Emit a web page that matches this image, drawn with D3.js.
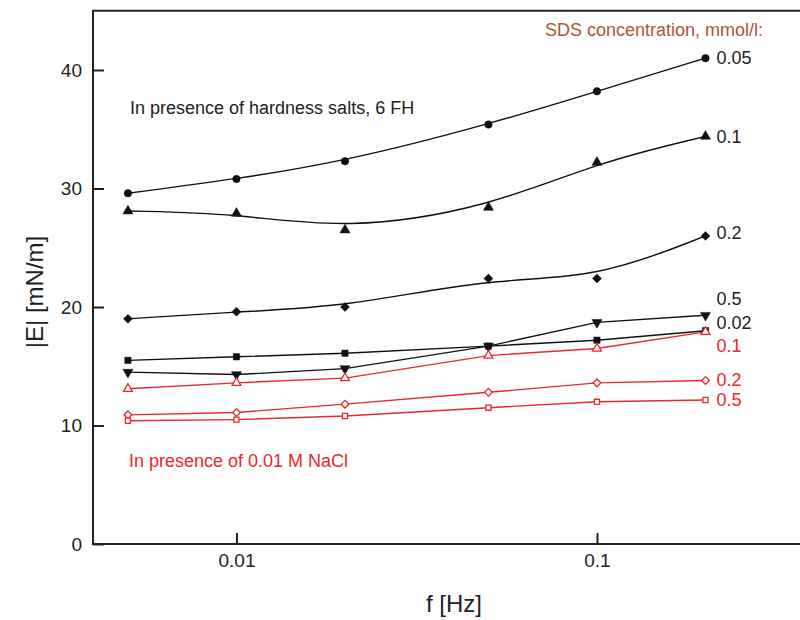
<!DOCTYPE html>
<html>
<head>
<meta charset="utf-8">
<script src="https://cdn.jsdelivr.net/npm/d3@7"></script>
<style>
  body { margin: 0; background: #fff; }
  svg { display: block; font-family: "Liberation Sans", Arial, sans-serif; }
</style>
</head>
<body>
<svg id="chart" width="800" height="620"></svg>
<script>
// frequencies (Hz)
var freqs = [0.005, 0.01, 0.02, 0.05, 0.1, 0.2];

// hardness salts, 6 FH (black)
var sds005 = [29.6, 30.8, 32.3, 35.4, 38.2, 41.0];
var sds01 = [28.1, 27.9, 26.5, 28.4, 32.2, 34.4];
var sds02 = [19.0, 19.6, 20.0, 22.4, 22.4, 26.0];
var sds05 = [14.5, 14.3, 14.8, 16.7, 18.7, 19.3];
var sds002 = [15.5, 15.8, 16.1, 16.7, 17.2, 18.0];

// 0.01 M NaCl (red)
var nacl01 = [13.1, 13.6, 14.0, 15.9, 16.5, 17.9];
var nacl02 = [10.9, 11.1, 11.8, 12.8, 13.6, 13.8];
var nacl05 = [10.4, 10.5, 10.8, 11.5, 12.0, 12.15];

var seriesNames = ["0.05", "0.1", "0.2", "0.5", "0.02", "0.1", "0.2", "0.5"];
var labelVals = [41.0, 34.35, 26.3, 20.7, 18.7, 16.7, 13.85, 12.15];

var xMajor = [0.01, 0.1];
var xMinor = [0.005, 0.006, 0.007, 0.008, 0.009, 0.02, 0.03, 0.04, 0.05, 0.06, 0.07, 0.08, 0.09, 0.2, 0.3];
var yMajor = [0, 10, 20, 30, 40];
var yMinor = [5, 15, 25, 35];

var black = "#111", red = "#e8282c";

var series = [
  { name: seriesNames[0], vals: sds005, sym: "circle", fill: true, color: black, curve: d3.curveBasis, lab: labelVals[0], labColor: "#222" },
  { name: seriesNames[1], vals: sds01, sym: "triangle", fill: true, color: black, curve: d3.curveBasis, lab: labelVals[1], labColor: "#222" },
  { name: seriesNames[2], vals: sds02, sym: "diamond", fill: true, color: black, curve: d3.curveBasis, lab: labelVals[2], labColor: "#222" },
  { name: seriesNames[3], vals: sds05, sym: "triangledown", fill: true, color: black, curve: d3.curveLinear, lab: labelVals[3], labColor: "#222" },
  { name: seriesNames[4], vals: sds002, sym: "square", fill: true, color: black, curve: d3.curveLinear, lab: labelVals[4], labColor: "#222" },
  { name: seriesNames[5], vals: nacl01, sym: "triangle", fill: false, color: red, curve: d3.curveLinear, lab: labelVals[5], labColor: red },
  { name: seriesNames[6], vals: nacl02, sym: "diamond", fill: false, color: red, curve: d3.curveLinear, lab: labelVals[6], labColor: red },
  { name: seriesNames[7], vals: nacl05, sym: "square", fill: false, color: red, curve: d3.curveLinear, lab: labelVals[7], labColor: red }
];

var svg = d3.select("#chart");

var x = d3.scaleLog().domain([0.004, 0.4]).range([93, 814]);
var y = d3.scaleLinear().domain([0, 45]).range([544, 10.75]);

// frame (right side falls outside the picture)
svg.append("rect")
  .attr("x", x(0.004)).attr("y", y(45))
  .attr("width", x(0.4) - x(0.004)).attr("height", y(0) - y(45))
  .attr("fill", "none").attr("stroke", "#222").attr("stroke-width", 2);

// x axis
var gx = svg.append("g").attr("transform", "translate(0," + y(0) + ")");
gx.call(d3.axisBottom(x).tickValues(xMinor).tickSize(-5).tickFormat(""));
gx.call(d3.axisBottom(x).tickValues(xMajor).tickSize(-11).tickPadding(10).tickFormat(d3.format("")));
gx.select(".domain").remove();
gx.selectAll("line").attr("stroke", "#222").attr("stroke-width", 2);
gx.selectAll("text").attr("font-size", 19).attr("fill", "#222")
  .attr("font-family", "Liberation Sans, Arial, sans-serif");

// y axis
var gy = svg.append("g").attr("transform", "translate(" + x(0.004) + ",0)");
gy.call(d3.axisLeft(y).tickValues(yMinor).tickSize(-6).tickFormat(""));
gy.call(d3.axisLeft(y).tickValues(yMajor).tickSize(-11).tickPadding(11));
gy.selectAll(".domain").remove();
gy.selectAll("line").attr("stroke", "#222").attr("stroke-width", 2);
gy.selectAll("text").attr("font-size", 19).attr("fill", "#222")
  .attr("font-family", "Liberation Sans, Arial, sans-serif");

// axis titles
svg.append("text")
  .attr("x", 454).attr("y", 612)
  .attr("text-anchor", "middle").attr("font-size", 24).attr("fill", "#222")
  .text("f [Hz]");
svg.append("text")
  .attr("transform", "translate(43,292) rotate(-90)")
  .attr("text-anchor", "middle").attr("font-size", 24).attr("fill", "#222")
  .text("|E| [mN/m]");

// curves and markers
var symbols = {
  circle: d3.symbolCircle, triangle: d3.symbolTriangle, diamond: d3.symbolSquare,
  square: d3.symbolSquare, triangledown: d3.symbolTriangle
};
var rotation = { triangledown: 180, diamond: 45 };

series.forEach(function(s) {
  var pts = freqs.map(function(f, i) { return [f, s.vals[i]]; });
  var line = d3.line().curve(s.curve)
    .x(function(d) { return x(d[0]); })
    .y(function(d) { return y(d[1]); });

  svg.append("path").datum(pts)
    .attr("d", line)
    .attr("fill", "none").attr("stroke", s.color).attr("stroke-width", 1.4);

  var size = s.fill ? 44 : 34;
  if (s.sym === "diamond") size = s.fill ? 40 : 30;
  if (s.sym === "square") size = s.fill ? 40 : 26;
  svg.append("g").selectAll("path").data(pts).join("path")
    .attr("transform", function(d) {
      return "translate(" + x(d[0]) + "," + y(d[1]) + ")" + (rotation[s.sym] ? " rotate(" + rotation[s.sym] + ")" : "");
    })
    .attr("d", d3.symbol().type(symbols[s.sym]).size(size))
    .attr("fill", s.fill ? s.color : "#fff")
    .attr("stroke", s.color).attr("stroke-width", s.fill ? 0.5 : 1.3);

  svg.append("text")
    .attr("x", x(0.2) + 11).attr("y", y(s.lab))
    .attr("dy", "0.35em")
    .attr("font-size", 18).attr("fill", s.labColor)
    .text(s.name);
});

// annotations
svg.append("text")
  .attr("x", 545).attr("y", 36)
  .attr("font-size", 18).attr("fill", "#ac5634")
  .text("SDS concentration, mmol/l:");
svg.append("text")
  .attr("x", 130).attr("y", 114)
  .attr("font-size", 18).attr("fill", "#222")
  .text("In presence of hardness salts, 6 FH");
svg.append("text")
  .attr("x", 129).attr("y", 467)
  .attr("font-size", 18).attr("fill", red)
  .text("In presence of 0.01 M NaCl");
</script>
</body>
</html>
